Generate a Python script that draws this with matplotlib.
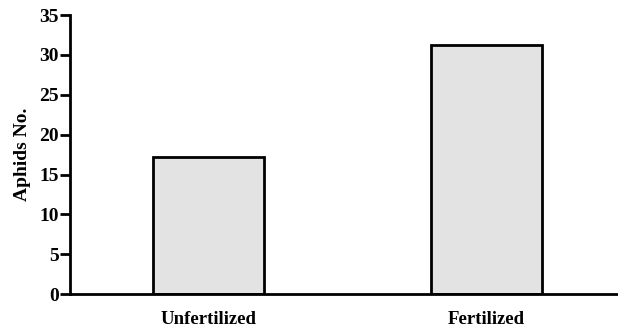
import matplotlib.pyplot as plt

# data
categories = ["Unfertilized", "Fertilized"]
aphids = [17.2, 31.2]
y_ticks = [0, 5, 10, 15, 20, 25, 30, 35]

plt.rcParams["font.family"] = ["Liberation Serif", "DejaVu Serif"]
plt.rcParams["font.weight"] = "bold"

fig = plt.figure(figsize=(6.18, 3.29), dpi=100)
fig.patch.set_facecolor("white")
ax = fig.add_axes([0.113, 0.106, 0.885, 0.848])

x = range(len(categories))
ax.bar(x, aphids, width=0.4, color="#e3e3e3", edgecolor="black", linewidth=2, zorder=2)

ax.set_xlim(-0.5, 1.47)
ax.set_ylim(0, 35)
ax.set_yticks(y_ticks)
ax.set_xticks(list(x))
ax.set_xticklabels(categories, fontsize=13.5, fontweight="bold")
ax.set_ylabel("Aphids No.", fontsize=14, fontweight="bold", labelpad=6)

for side in ("top", "right"):
    ax.spines[side].set_visible(False)
for side in ("left", "bottom"):
    ax.spines[side].set_linewidth(2)

ax.tick_params(axis="y", direction="out", length=7, width=2, labelsize=14, pad=1)
ax.tick_params(axis="x", length=0, pad=12)
for lbl in ax.get_yticklabels():
    lbl.set_fontweight("bold")

fig.savefig("out.png", dpi=100, facecolor="white")
